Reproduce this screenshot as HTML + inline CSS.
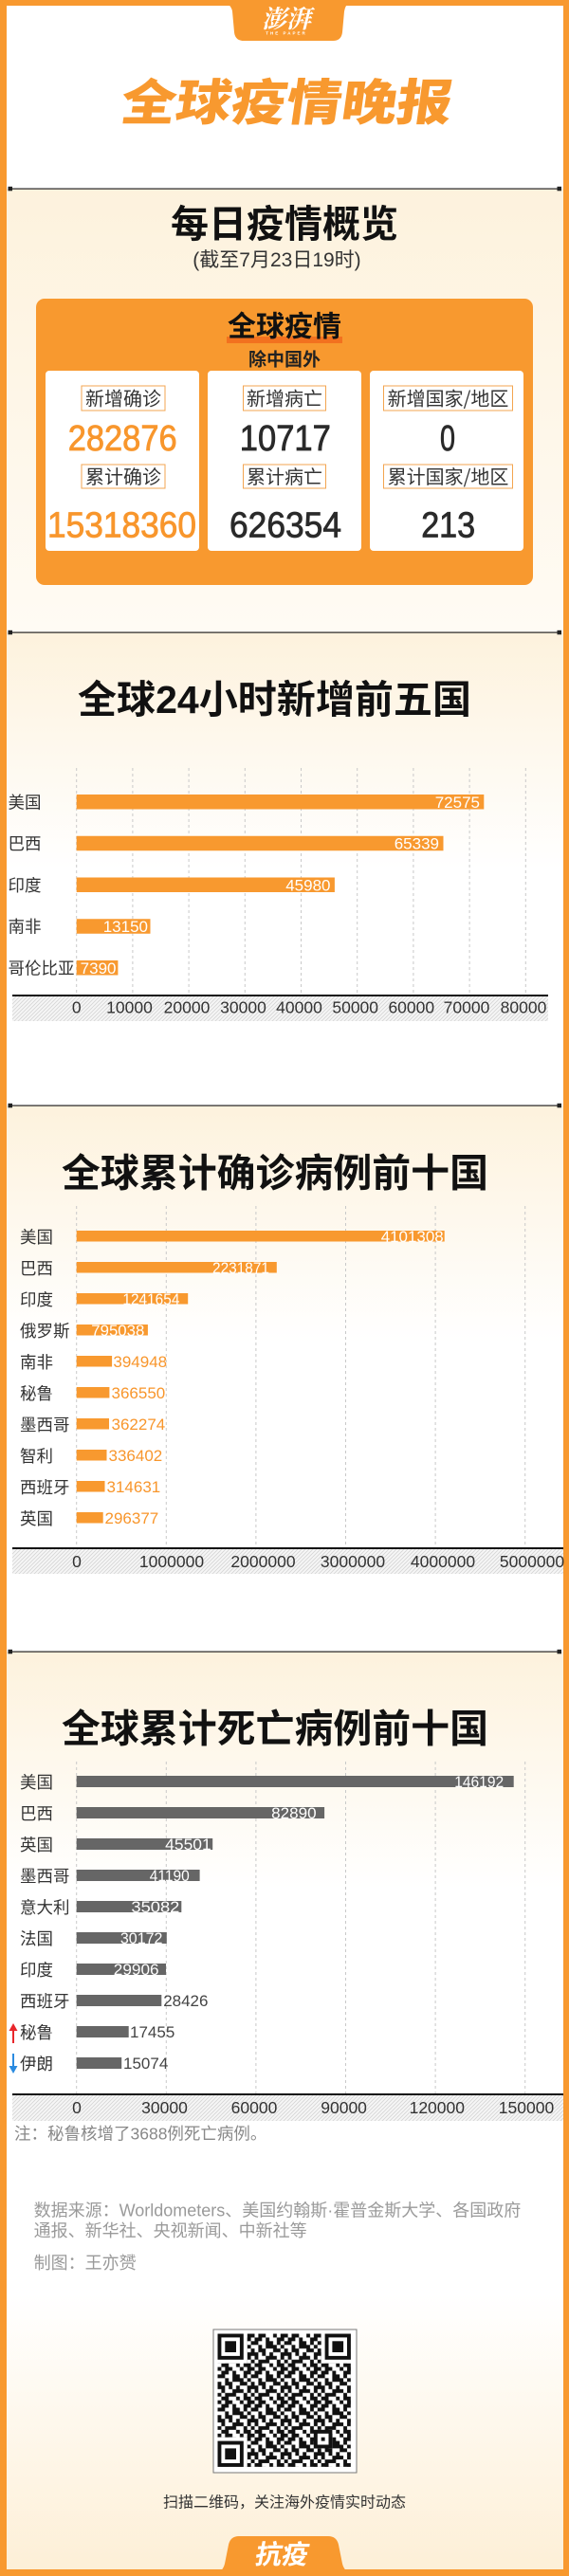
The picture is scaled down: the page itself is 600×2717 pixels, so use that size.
<!DOCTYPE html>
<html><head><meta charset="utf-8"><style>
html,body{margin:0;padding:0;background:#fff;}
svg{display:block;}
text{font-family:"Liberation Sans","Noto Sans CJK SC",sans-serif;}
.cjk{font-family:"Noto Sans CJK SC","Liberation Sans",sans-serif;}
</style></head><body>
<svg width="600" height="2717" viewBox="0 0 600 2717" xmlns="http://www.w3.org/2000/svg">
<defs>
<linearGradient id="gOv" x1="0" y1="0" x2="0" y2="1"><stop offset="0" stop-color="#fdf2dd"/><stop offset="1" stop-color="#fffbf4"/></linearGradient>
<linearGradient id="gSec" x1="0" y1="0" x2="0" y2="1"><stop offset="0" stop-color="#fdf2dd"/><stop offset="1" stop-color="#ffffff"/></linearGradient>
<linearGradient id="gBot" x1="0" y1="0" x2="0" y2="1"><stop offset="0" stop-color="#ffffff"/><stop offset="1" stop-color="#fdefd6"/></linearGradient>
<pattern id="hatch" width="4" height="4" patternUnits="userSpaceOnUse"><rect width="4" height="4" fill="#f6f6f6"/><path d="M-1,1 l2,-2 M0,4 l4,-4 M3,5 l2,-2" stroke="#d6d6d6" stroke-width="0.9"/></pattern>
<pattern id="qrp" width="9" height="9" patternUnits="userSpaceOnUse"><path fill="#111" d="M0 0h1v1h-1zM2 0h2v1h-2zM6 0h1v1h-1zM8 0h1v1h-1zM1 1h2v1h-2zM4 1h1v1h-1zM7 1h2v1h-2zM0 2h2v1h-2zM4 2h2v1h-2zM7 2h1v1h-1zM2 3h1v1h-1zM4 3h3v1h-3zM8 3h1v1h-1zM0 4h1v1h-1zM2 4h2v1h-2zM6 4h2v1h-2zM0 5h2v1h-2zM3 5h1v1h-1zM5 5h1v1h-1zM8 5h1v1h-1zM1 6h1v1h-1zM4 6h3v1h-3zM8 6h1v1h-1zM0 7h1v1h-1zM2 7h3v1h-3zM7 7h1v1h-1zM1 8h2v1h-2zM5 8h1v1h-1zM7 8h2v1h-2z"/></pattern>
</defs>

<!-- backgrounds -->
<rect x="0" y="0" width="600" height="2717" fill="#fff"/>
<rect x="0" y="199" width="600" height="468" fill="url(#gOv)"/>
<rect x="0" y="667" width="600" height="250" fill="url(#gSec)"/>
<rect x="0" y="1166" width="600" height="250" fill="url(#gSec)"/>
<rect x="0" y="1742" width="600" height="250" fill="url(#gSec)"/>
<rect x="0" y="2420" width="600" height="297" fill="url(#gBot)"/>

<!-- frame -->
<rect x="0" y="0" width="600" height="6" fill="#f8992f"/>
<rect x="0" y="0" width="7" height="2717" fill="#f8992f"/>
<rect x="594" y="0" width="6" height="2717" fill="#f8992f"/>
<rect x="0" y="2710" width="600" height="7" fill="#f8992f"/>

<!-- logo tab -->
<path d="M234 0 L370 0 Q364 5 363 12 L361 34 Q360 43 351 43 L257 43 Q248 43 247 34 L245 12 Q244 5 234 0 Z" fill="#f8992f"/>
<text x="302" y="29" text-anchor="middle" font-size="26" font-weight="700" fill="#fff" class="cjk" style="font-family:'Noto Serif CJK SC',serif;font-style:italic">澎湃</text>
<text x="302" y="36.5" text-anchor="middle" font-size="4.5" font-weight="700" fill="#fff" letter-spacing="2">THE PAPER</text>

<!-- main title -->
<g transform="translate(300,126.5) skewX(-8)">
<text x="0" y="0" text-anchor="middle" font-size="52" font-weight="900" fill="#f8992f" class="cjk" textLength="349" lengthAdjust="spacingAndGlyphs">全球疫情晚报</text>
</g>

<!-- dividers -->
<g fill="#222">
<rect x="10" y="198.5" width="580" height="1.2"/><rect x="8.5" y="196.8" width="4.5" height="4.5"/><rect x="587.5" y="196.8" width="4.5" height="4.5"/>
<rect x="10" y="666.5" width="580" height="1.2"/><rect x="8.5" y="664.8" width="4.5" height="4.5"/><rect x="587.5" y="664.8" width="4.5" height="4.5"/>
<rect x="10" y="1165.5" width="580" height="1.2"/><rect x="8.5" y="1163.8" width="4.5" height="4.5"/><rect x="587.5" y="1163.8" width="4.5" height="4.5"/>
<rect x="10" y="1741.5" width="580" height="1.2"/><rect x="8.5" y="1739.8" width="4.5" height="4.5"/><rect x="587.5" y="1739.8" width="4.5" height="4.5"/>
</g>

<!-- overview -->
<text x="300" y="250" text-anchor="middle" font-size="40" font-weight="700" fill="#111" class="cjk">每日疫情概览</text>
<text x="292" y="281" text-anchor="middle" font-size="21" fill="#333">(截至7月23日19时)</text>

<rect x="38" y="315" width="524" height="302" rx="9" fill="#f8992f"/>
<rect x="239" y="355" width="122" height="7" fill="#f2711f"/>
<text x="300" y="354.5" text-anchor="middle" font-size="30" font-weight="700" fill="#111" class="cjk">全球疫情</text>
<text x="300" y="385.5" text-anchor="middle" font-size="19" font-weight="700" fill="#222" class="cjk">除中国外</text>

<rect x="48" y="391" width="162" height="190" rx="4" fill="#fff"/>
<rect x="219" y="391" width="162" height="190" rx="4" fill="#fff"/>
<rect x="390" y="391" width="162" height="190" rx="4" fill="#fff"/>

<g fill="#fff" stroke="#f3a550" stroke-width="1">
<rect x="86" y="407" width="88" height="26"/>
<rect x="256.5" y="407" width="87" height="26"/>
<rect x="404.5" y="407" width="136" height="26"/>
<rect x="86" y="490" width="88" height="25"/>
<rect x="256.5" y="490" width="87" height="25"/>
<rect x="404.5" y="490" width="136" height="25"/>
</g>
<g font-size="20" fill="#333" text-anchor="middle" class="cjk">
<text x="130" y="427.5" class="cjk">新增确诊</text>
<text x="300" y="427.5" class="cjk">新增病亡</text>
<text x="472.5" y="427.5" class="cjk">新增国家/地区</text>
<text x="130" y="510" class="cjk">累计确诊</text>
<text x="300" y="510" class="cjk">累计病亡</text>
<text x="472.5" y="510" class="cjk">累计国家/地区</text>
</g>
<g font-size="38" font-weight="400" text-anchor="middle" stroke-width="0.8">
<text x="129.2" y="475" fill="#f8962c" stroke="#f8962c" textLength="115" lengthAdjust="spacingAndGlyphs">282876</text>
<text x="300.8" y="475" fill="#2a2a2a" stroke="#2a2a2a" textLength="96" lengthAdjust="spacingAndGlyphs">10717</text>
<text x="472" y="475" fill="#2a2a2a" stroke="#2a2a2a" textLength="16" lengthAdjust="spacingAndGlyphs">0</text>
<text x="128.5" y="566.5" fill="#f8962c" stroke="#f8962c" textLength="157" lengthAdjust="spacingAndGlyphs">15318360</text>
<text x="301" y="566.5" fill="#2a2a2a" stroke="#2a2a2a" textLength="118" lengthAdjust="spacingAndGlyphs">626354</text>
<text x="472.7" y="566.5" fill="#2a2a2a" stroke="#2a2a2a" textLength="57" lengthAdjust="spacingAndGlyphs">213</text>
</g>

<!-- ============ chart 1 ============ -->
<text x="289.5" y="752" text-anchor="middle" font-size="41" font-weight="700" fill="#111" textLength="415" lengthAdjust="spacingAndGlyphs">全球24小时新增前五国</text>
<g stroke="#c9c9c9" stroke-width="1" stroke-dasharray="3 3">
<line x1="80.7" y1="810" x2="80.7" y2="1050"/><line x1="139.9" y1="810" x2="139.9" y2="1050"/><line x1="199.1" y1="810" x2="199.1" y2="1050"/><line x1="258.3" y1="810" x2="258.3" y2="1050"/><line x1="317.5" y1="810" x2="317.5" y2="1050"/><line x1="376.7" y1="810" x2="376.7" y2="1050"/><line x1="435.9" y1="810" x2="435.9" y2="1050"/><line x1="495.1" y1="810" x2="495.1" y2="1050"/><line x1="554.3" y1="810" x2="554.3" y2="1050"/>
</g>
<g fill="#f8992f">
<rect x="80.7" y="838" width="429.6" height="15.5"/>
<rect x="80.7" y="881.75" width="386.8" height="15.5"/>
<rect x="80.7" y="925.5" width="272.2" height="15.5"/>
<rect x="80.7" y="969.25" width="77.8" height="15.5"/>
<rect x="80.7" y="1013" width="43.7" height="15.5"/>
</g>
<g font-size="17" fill="#fff" text-anchor="end">
<text x="506" y="851.75">72575</text>
<text x="463" y="895.5">65339</text>
<text x="348.5" y="939.25">45980</text>
<text x="156" y="983">13150</text>
<text x="122.5" y="1026.75">7390</text>
</g>
<g font-size="17.5" fill="#333" class="cjk">
<text x="8.5" y="852.25" class="cjk">美国</text>
<text x="8.5" y="896" class="cjk">巴西</text>
<text x="8.5" y="939.75" class="cjk">印度</text>
<text x="8.5" y="983.5" class="cjk">南非</text>
<text x="8.5" y="1027.25" class="cjk">哥伦比亚</text>
</g>
<rect x="13" y="1051" width="565" height="26" fill="url(#hatch)"/>
<rect x="13" y="1049" width="565" height="2" fill="#111"/>
<g font-size="17.5" fill="#333" text-anchor="middle">
<text x="80.7" y="1068.5">0</text><text x="136.5" y="1068.5">10000</text><text x="197" y="1068.5">20000</text><text x="256.5" y="1068.5">30000</text><text x="315.5" y="1068.5">40000</text><text x="374.7" y="1068.5">50000</text><text x="433.8" y="1068.5">60000</text><text x="492" y="1068.5">70000</text><text x="552" y="1068.5">80000</text>
</g>

<!-- ============ chart 2 ============ -->
<text x="290" y="1251.5" text-anchor="middle" font-size="41" font-weight="700" fill="#111" class="cjk" textLength="450" lengthAdjust="spacingAndGlyphs">全球累计确诊病例前十国</text>
<g stroke="#c9c9c9" stroke-width="1" stroke-dasharray="3 3">
<line x1="80.7" y1="1272" x2="80.7" y2="1633"/><line x1="175.3" y1="1272" x2="175.3" y2="1633"/><line x1="269.9" y1="1272" x2="269.9" y2="1633"/><line x1="364.5" y1="1272" x2="364.5" y2="1633"/><line x1="459.1" y1="1272" x2="459.1" y2="1633"/><line x1="553.7" y1="1272" x2="553.7" y2="1633"/>
</g>
<g fill="#f8992f">
<rect x="80.7" y="1298" width="388.0" height="11.5"/>
<rect x="80.7" y="1331" width="211.1" height="11.5"/>
<rect x="80.7" y="1364" width="117.5" height="11.5"/>
<rect x="80.7" y="1397" width="75.2" height="11.5"/>
<rect x="80.7" y="1430" width="37.4" height="11.5"/>
<rect x="80.7" y="1463" width="34.7" height="11.5"/>
<rect x="80.7" y="1496" width="34.3" height="11.5"/>
<rect x="80.7" y="1529" width="31.8" height="11.5"/>
<rect x="80.7" y="1562" width="29.8" height="11.5"/>
<rect x="80.7" y="1595" width="28.0" height="11.5"/>
</g>
<g font-size="17" fill="#fff" text-anchor="end">
<text x="467.7" y="1309.75" textLength="66" lengthAdjust="spacingAndGlyphs">4101308</text>
<text x="284" y="1342.75" textLength="60" lengthAdjust="spacingAndGlyphs">2231871</text>
<text x="189.4" y="1375.75" textLength="60" lengthAdjust="spacingAndGlyphs">1241654</text>
<text x="152.3" y="1408.75" textLength="56" lengthAdjust="spacingAndGlyphs">795038</text>
</g>
<g font-size="17" fill="#f8962c">
<text x="119.4" y="1441.75">394948</text>
<text x="117.5" y="1474.75">366550</text>
<text x="117.5" y="1507.75">362274</text>
<text x="114.5" y="1540.75">336402</text>
<text x="112.5" y="1573.75">314631</text>
<text x="110.5" y="1606.75">296377</text>
</g>
<g font-size="17.5" fill="#333" class="cjk">
<text x="21" y="1310.75" class="cjk">美国</text>
<text x="21" y="1343.75" class="cjk">巴西</text>
<text x="21" y="1376.75" class="cjk">印度</text>
<text x="21" y="1409.75" class="cjk">俄罗斯</text>
<text x="21" y="1442.75" class="cjk">南非</text>
<text x="21" y="1475.75" class="cjk">秘鲁</text>
<text x="21" y="1508.75" class="cjk">墨西哥</text>
<text x="21" y="1541.75" class="cjk">智利</text>
<text x="21" y="1574.75" class="cjk">西班牙</text>
<text x="21" y="1607.75" class="cjk">英国</text>
</g>
<rect x="13" y="1634" width="581" height="26" fill="url(#hatch)"/>
<rect x="13" y="1632" width="581" height="2" fill="#111"/>
<g font-size="17.5" fill="#333" text-anchor="middle">
<text x="81" y="1653">0</text><text x="181" y="1653">1000000</text><text x="277.5" y="1653">2000000</text><text x="372" y="1653">3000000</text><text x="467" y="1653">4000000</text><text x="561" y="1653">5000000</text>
</g>

<!-- ============ chart 3 ============ -->
<text x="290" y="1837.5" text-anchor="middle" font-size="41" font-weight="700" fill="#111" class="cjk" textLength="450" lengthAdjust="spacingAndGlyphs">全球累计死亡病例前十国</text>
<g stroke="#c9c9c9" stroke-width="1" stroke-dasharray="3 3">
<line x1="80.7" y1="1858" x2="80.7" y2="2209"/><line x1="175.3" y1="1858" x2="175.3" y2="2209"/><line x1="269.9" y1="1858" x2="269.9" y2="2209"/><line x1="364.5" y1="1858" x2="364.5" y2="2209"/><line x1="459.1" y1="1858" x2="459.1" y2="2209"/><line x1="553.7" y1="1858" x2="553.7" y2="2209"/>
</g>
<g fill="#666">
<rect x="80.7" y="1873" width="461.0" height="12"/>
<rect x="80.7" y="1906" width="261.4" height="12"/>
<rect x="80.7" y="1939" width="143.5" height="12"/>
<rect x="80.7" y="1972" width="129.9" height="12"/>
<rect x="80.7" y="2005" width="110.6" height="12"/>
<rect x="80.7" y="2038" width="95.1" height="12"/>
<rect x="80.7" y="2071" width="94.3" height="12"/>
<rect x="80.7" y="2104" width="89.6" height="12"/>
<rect x="80.7" y="2137" width="55.0" height="12"/>
<rect x="80.7" y="2170" width="47.5" height="12"/>
</g>
<g font-size="17" fill="#fff" text-anchor="end">
<text x="531.2" y="1885" textLength="52" lengthAdjust="spacingAndGlyphs">146192</text>
<text x="333.7" y="1918" textLength="47.5" lengthAdjust="spacingAndGlyphs">82890</text>
<text x="222.7" y="1951" textLength="48.5" lengthAdjust="spacingAndGlyphs">45501</text>
<text x="199.8" y="1984" textLength="42" lengthAdjust="spacingAndGlyphs">41190</text>
<text x="189.4" y="2017" textLength="51" lengthAdjust="spacingAndGlyphs">35082</text>
<text x="171.4" y="2050" textLength="44.5" lengthAdjust="spacingAndGlyphs">30172</text>
<text x="167.6" y="2083" textLength="47.8" lengthAdjust="spacingAndGlyphs">29906</text>
</g>
<g font-size="17" fill="#444">
<text x="172.2" y="2116">28426</text>
<text x="137" y="2149">17455</text>
<text x="130" y="2182">15074</text>
</g>
<g font-size="17.5" fill="#333" class="cjk">
<text x="21" y="1886" class="cjk">美国</text>
<text x="21" y="1919" class="cjk">巴西</text>
<text x="21" y="1952" class="cjk">英国</text>
<text x="21" y="1985" class="cjk">墨西哥</text>
<text x="21" y="2018" class="cjk">意大利</text>
<text x="21" y="2051" class="cjk">法国</text>
<text x="21" y="2084" class="cjk">印度</text>
<text x="21" y="2117" class="cjk">西班牙</text>
<text x="21" y="2150" class="cjk">秘鲁</text>
<text x="21" y="2183" class="cjk">伊朗</text>
</g>
<!-- arrows -->
<line x1="14" y1="2155" x2="14" y2="2139" stroke="#e8262b" stroke-width="2"/>
<polygon points="9.5,2142 14,2134 18.5,2142" fill="#e8262b"/>
<line x1="14" y1="2166" x2="14" y2="2182" stroke="#2b8be0" stroke-width="2"/>
<polygon points="9.5,2179 14,2187 18.5,2179" fill="#2b8be0"/>

<rect x="13" y="2210" width="581" height="27" fill="url(#hatch)"/>
<rect x="13" y="2208" width="581" height="2" fill="#111"/>
<g font-size="17.5" fill="#333" text-anchor="middle">
<text x="81" y="2229">0</text><text x="173.5" y="2229">30000</text><text x="268" y="2229">60000</text><text x="362.6" y="2229">90000</text><text x="460.8" y="2229">120000</text><text x="555" y="2229">150000</text>
</g>
<text x="15" y="2256.5" font-size="17.5" fill="#888">注：秘鲁核增了3688例死亡病例。</text>

<!-- sources -->
<g font-size="18" fill="#9a9a9a">
<text x="35.6" y="2337.5">数据来源：Worldometers、美国约翰斯·霍普金斯大学、各国政府</text>
<text x="35.6" y="2359">通报、新华社、央视新闻、中新社等</text>
<text x="35.6" y="2393">制图：王亦赟</text>
</g>

<!-- QR -->
<rect x="225" y="2457" width="151" height="151" fill="#fff" stroke="#777" stroke-width="1"/>
<g transform="translate(229.5,2461.5) scale(3.9)">
<rect x="0" y="0" width="36" height="36" fill="url(#qrp)"/>
<rect x="0" y="0" width="8" height="8" fill="#fff"/><rect x="0" y="0" width="7" height="7" fill="#111"/><rect x="1" y="1" width="5" height="5" fill="#fff"/><rect x="2" y="2" width="3" height="3" fill="#111"/>
<rect x="28" y="0" width="8" height="8" fill="#fff"/><rect x="29" y="0" width="7" height="7" fill="#111"/><rect x="30" y="1" width="5" height="5" fill="#fff"/><rect x="31" y="2" width="3" height="3" fill="#111"/>
<rect x="0" y="28" width="8" height="8" fill="#fff"/><rect x="0" y="29" width="7" height="7" fill="#111"/><rect x="1" y="30" width="5" height="5" fill="#fff"/><rect x="2" y="31" width="3" height="3" fill="#111"/>
<rect x="26" y="26" width="5" height="5" fill="#111"/><rect x="27" y="27" width="3" height="3" fill="#fff"/><rect x="28" y="28" width="1" height="1" fill="#111"/>
</g>
<text x="300" y="2644.5" text-anchor="middle" font-size="16" fill="#333">扫描二维码，关注海外疫情实时动态</text>

<!-- bottom tab -->
<path d="M224 2717 Q235 2713 237 2704 L241 2684 Q243 2675 252 2675 L346 2675 Q355 2675 357 2684 L361 2704 Q363 2713 374 2717 Z" fill="#f8992f"/>
<g transform="translate(296,2704) skewX(-10)">
<text x="0" y="0" text-anchor="middle" font-size="28" font-weight="700" fill="#fff" class="cjk">抗疫</text>
</g>
</svg>
</body></html>
